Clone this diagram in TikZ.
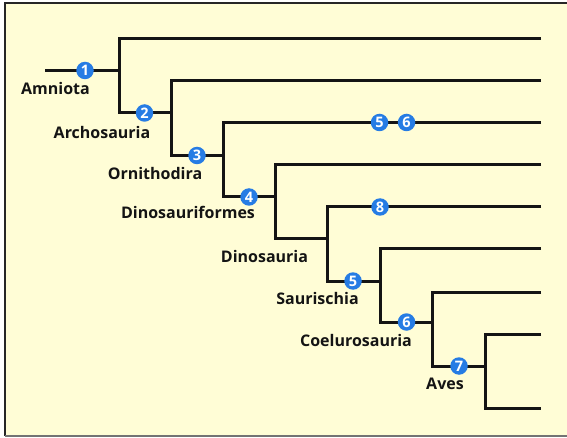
\documentclass[tikz,border=0pt]{standalone}
\usepackage{fontspec}
\setmainfont{Open Sans}
\definecolor{paper}{RGB}{255,253,214}
\definecolor{badgeblue}{RGB}{38,124,228}
\definecolor{ink}{RGB}{20,20,20}
\begin{document}
\begin{tikzpicture}[x=1pt,y=-1pt,
  branch/.style={line width=3pt, draw=ink, line join=miter},
  badge/.style={circle, fill=badgeblue, text=white, inner sep=0pt,
    minimum size=17.5pt, font=\bfseries\fontsize{14.5}{14.5}\selectfont},
  taxon/.style={anchor=base, text=ink, inner sep=0pt,
    font=\bfseries\fontsize{16}{17}\selectfont}]
\useasboundingbox (0,0) rectangle (567,438);
% panel
\fill[paper] (5,3) rectangle (567,436);
\draw[line width=1.5pt, draw=black!85] (567,3) -- (5,3) -- (5,436);
\draw[line width=1.5pt, draw=black!55] (5,436) -- (567,436);

% fork points on each vertical bar
\coordinate (root) at (45,70.5);
\coordinate (f1) at (119.5,70.5);
\coordinate (f2) at (171.5,113);
\coordinate (f3) at (223.5,155.5);
\coordinate (f4) at (275.5,197);
\coordinate (f5) at (327.5,239);
\coordinate (f6) at (380.5,281);
\coordinate (f7) at (432.5,322);
\coordinate (f8) at (485,366);
% branch tips
\coordinate (t1) at (541,38.5);
\coordinate (t2) at (541,80.5);
\coordinate (t3) at (541,122.5);
\coordinate (t4) at (541,165);
\coordinate (t5) at (541,207);
\coordinate (t6) at (541,249);
\coordinate (t7) at (541,292);
\coordinate (t8) at (541,334);
\coordinate (t9) at (541,408);

% tree
\draw[branch] (root) -- (f1);
\draw[branch] (t1) -| (f1) |- (f2);
\draw[branch] (t2) -| (f2) |- (f3);
\draw[branch] (t3) -| (f3) |- (f4);
\draw[branch] (t4) -| (f4) |- (f5);
\draw[branch] (t5) -| (f5) |- (f6);
\draw[branch] (t6) -| (f6) |- (f7);
\draw[branch] (t7) -| (f7) |- (f8);
\draw[branch] (t8) -| (f8) |- (t9);

% character badges
\node[badge] (b1) at (85,70.5) {1};
\node[badge] (b2) at (144.5,113) {2};
\node[badge] (b3) at (197,155.5) {3};
\node[badge] (b4) at (249,197) {4};
\node[badge] (b5a) at (379.5,122.5) {5};
\node[badge] (b6a) at (406.5,122.5) {6};
\node[badge] (b8) at (380,207) {8};
\node[badge] (b5) at (353,281) {5};
\node[badge] (b6) at (406.5,322) {6};
\node[badge] (b7) at (459,366) {7};

% clade names
\node[taxon] (amniota) at (55.5,94.5) {Amniota};
\node[taxon] (archo) at (102,138.5) {Archosauria};
\node[taxon] (ornitho) at (155,179.5) {Ornithodira};
\node[taxon] (dinof) at (188,219) {Dinosauriformes};
\node[taxon] (dino) at (264.5,262.5) {Dinosauria};
\node[taxon] (sauri) at (317.5,304.5) {Saurischia};
\node[taxon] (coelu) at (356,346) {Coelurosauria};
\node[taxon] (aves) at (445,389.5) {Aves};
\end{tikzpicture}
\end{document}
